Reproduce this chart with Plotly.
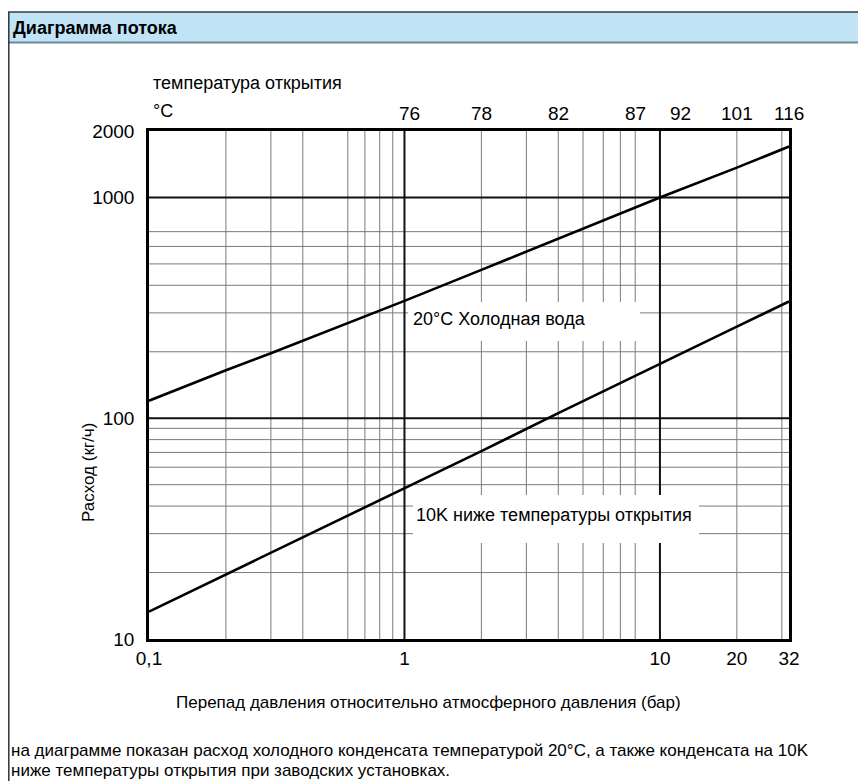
import math
import plotly.graph_objects as go

# ---------------- data ----------------
pressure_cold = [0.1, 0.2, 0.3, 1, 2, 5, 10, 20, 32]
flow_cold = [120, 165, 197, 340, 470, 720, 1000, 1365, 1700]

pressure_10k = [0.1, 0.2, 0.4, 0.7, 1, 2, 4, 10, 20, 32]
flow_10k = [13.3, 19.6, 29, 39.5, 48, 71, 105.5, 177, 260, 338]

x_tickvals = [0.1, 1, 10, 20, 32]
x_ticktext = ["0,1", "1", "10", "20", "32"]
y_tickvals = [10, 100, 1000, 2000]
y_ticktext = ["10", "100", "1000", "2000"]

x_grid_thin = [0.2, 0.3, 0.4, 0.6, 0.7, 0.8, 0.9, 2, 3, 4, 5, 6, 7, 8, 20, 30]
x_grid_thick = [1, 10]
y_grid_thin = [20, 30, 40, 50, 60, 70, 80, 90, 200, 300, 400, 500, 600, 700]
y_grid_thick = [100, 1000]

temp_positions = [1.05, 2, 4, 8, 12, 20, 32]
temp_labels = ["76", "78", "82", "87", "92", "101", "116"]

# ---------------- layout geometry ----------------
# the page body adds an 8px margin, so the figure is drawn 8px in
OFF = 8
W, H = 866 - OFF, 781 - OFF
L, T = 149 - OFF, 131 - OFF
R = W - (789 - OFF)
B = H - (639 - OFF)
PW, PH = W - L - R, H - T - B


def px(x):
    # x in reference-page pixels -> paper
    return (x - OFF - L) / PW


def py(y):
    return (H - B - (y - OFF)) / PH


FONT = "Liberation Sans, Arial, sans-serif"

fig = go.Figure()

fig.add_trace(go.Scatter(x=pressure_cold, y=flow_cold, mode="lines",
                         line=dict(color="black", width=2.6), showlegend=False,
                         hoverinfo="skip"))
fig.add_trace(go.Scatter(x=pressure_10k, y=flow_10k, mode="lines",
                         line=dict(color="black", width=2.6), showlegend=False,
                         hoverinfo="skip"))

shapes = []
for v in x_grid_thin:
    shapes.append(dict(type="line", xref="x", yref="y domain", x0=v, x1=v, y0=0, y1=1,
                       line=dict(color="#7a7a7a", width=1), layer="below"))
for v in y_grid_thin:
    shapes.append(dict(type="line", xref="x domain", yref="y", x0=0, x1=1, y0=v, y1=v,
                       line=dict(color="#7a7a7a", width=1), layer="below"))
for v in x_grid_thick:
    shapes.append(dict(type="line", xref="x", yref="y domain", x0=v, x1=v, y0=0, y1=1,
                       line=dict(color="#111111", width=2), layer="below"))
for v in y_grid_thick:
    shapes.append(dict(type="line", xref="x domain", yref="y", x0=0, x1=1, y0=v, y1=v,
                       line=dict(color="#111111", width=2), layer="below"))

# white label boxes (covering grid, below traces)
shapes.append(dict(type="rect", xref="paper", yref="paper",
                   x0=px(408), x1=px(640), y0=py(341), y1=py(302),
                   fillcolor="white", line=dict(width=0), layer="below"))
shapes.append(dict(type="rect", xref="paper", yref="paper",
                   x0=px(413), x1=px(699), y0=py(543), y1=py(495),
                   fillcolor="white", line=dict(width=0), layer="below"))

# header bar
shapes.append(dict(type="rect", xref="paper", yref="paper",
                   x0=px(6), x1=px(880), y0=py(43), y1=py(12),
                   fillcolor="#c0e3f6", line=dict(width=0), layer="above"))
shapes.append(dict(type="line", xref="paper", yref="paper",
                   x0=px(6), x1=px(880), y0=py(12), y1=py(12),
                   line=dict(color="#3a3a3a", width=1.5), layer="above"))
shapes.append(dict(type="line", xref="paper", yref="paper",
                   x0=px(6), x1=px(880), y0=py(42.5), y1=py(42.5),
                   line=dict(color="#6f8794", width=2), layer="above"))
# left frame
shapes.append(dict(type="line", xref="paper", yref="paper",
                   x0=px(8.8), x1=px(8.8), y0=py(12), y1=py(800),
                   line=dict(color="#333333", width=1.5), layer="above"))

annotations = []
annotations.append(dict(text="<b>Диаграмма потока</b>", xref="paper", yref="paper",
                        x=px(11), y=py(28), xanchor="left", yanchor="middle",
                        showarrow=False, font=dict(size=18, color="black", family=FONT)))
annotations.append(dict(text="температура открытия", xref="paper", yref="paper",
                        x=px(151), y=py(83), xanchor="left", yanchor="middle",
                        showarrow=False, font=dict(size=18, color="black", family=FONT)))
annotations.append(dict(text="°C", xref="paper", yref="paper",
                        x=px(151), y=py(111), xanchor="left", yanchor="middle",
                        showarrow=False, font=dict(size=18, color="black", family=FONT)))
for pos, lab in zip(temp_positions, temp_labels):
    annotations.append(dict(text=lab, xref="x", yref="paper",
                            x=math.log10(pos), y=py(113), xanchor="center", yanchor="middle",
                            showarrow=False, font=dict(size=19, color="black", family=FONT)))
annotations.append(dict(text="20°C Холодная вода", xref="paper", yref="paper",
                        x=px(411), y=py(319), xanchor="left", yanchor="middle",
                        showarrow=False, font=dict(size=18, color="black", family=FONT)))
annotations.append(dict(text="10K ниже температуры открытия", xref="paper", yref="paper",
                        x=px(414), y=py(515), xanchor="left", yanchor="middle",
                        showarrow=False, font=dict(size=18, color="black", family=FONT)))
annotations.append(dict(text="Расход (кг/ч)", xref="paper", yref="paper",
                        x=px(88), y=py(473), xanchor="center", yanchor="middle",
                        textangle=-90,
                        showarrow=False, font=dict(size=17, color="black", family=FONT)))
annotations.append(dict(text="Перепад давления относительно атмосферного давления (бар)",
                        xref="paper", yref="paper",
                        x=px(428), y=py(702), xanchor="center", yanchor="middle",
                        showarrow=False, font=dict(size=17, color="black", family=FONT)))
annotations.append(dict(text="на диаграмме показан расход холодного конденсата температурой 20°C, а также конденсата на 10K",
                        xref="paper", yref="paper",
                        x=px(9), y=py(750), xanchor="left", yanchor="middle",
                        showarrow=False, font=dict(size=17, color="black", family=FONT)))
annotations.append(dict(text="ниже температуры открытия при заводских установках.",
                        xref="paper", yref="paper",
                        x=px(9), y=py(770), xanchor="left", yanchor="middle",
                        showarrow=False, font=dict(size=17, color="black", family=FONT)))

fig.update_layout(
    width=W, height=H,
    margin=dict(l=L, r=R, t=T, b=B, pad=0),
    paper_bgcolor="white", plot_bgcolor="white",
    showlegend=False,
    shapes=shapes, annotations=annotations,
    font=dict(family=FONT, color="black"),
    xaxis=dict(type="log", range=[-1, math.log10(32)], tickvals=x_tickvals, ticktext=x_ticktext,
               showgrid=False, zeroline=False, showline=True, mirror=True,
               linecolor="black", linewidth=2.5, ticks="", ticklen=0,
               tickfont=dict(size=19, family=FONT, color="black")),
    yaxis=dict(type="log", range=[1, math.log10(2000)], tickvals=y_tickvals, ticktext=y_ticktext,
               showgrid=False, zeroline=False, showline=True, mirror=True,
               linecolor="black", linewidth=2.5, ticks="outside", ticklen=8, tickcolor="rgba(0,0,0,0)",
               tickfont=dict(size=19, family=FONT, color="black")),
)

fig.write_html("out.html")
